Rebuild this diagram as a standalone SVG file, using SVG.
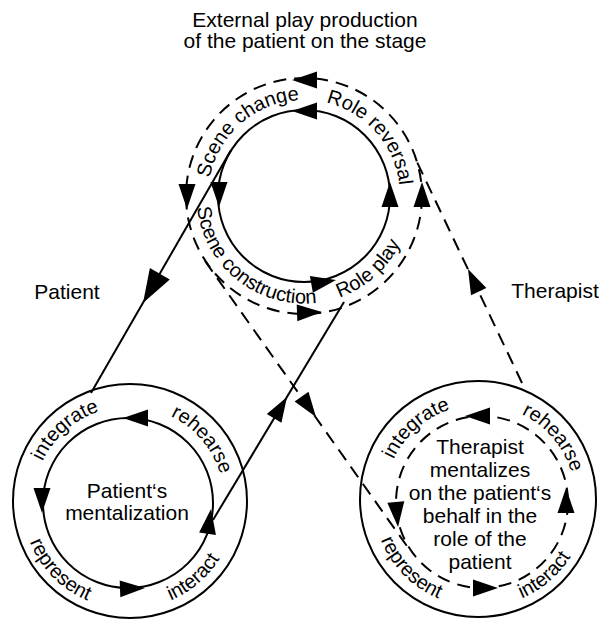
<svg xmlns="http://www.w3.org/2000/svg" width="606" height="620" viewBox="0 0 606 620">
<style>
  text { font-family: "Liberation Sans", Arial, sans-serif; fill: #000; }
  .lbl { font-size: 21px; text-anchor: middle; }
  .arc { font-size: 20px; }
  .ring { fill: none; stroke: #000; stroke-width: 2; }
  .dash { stroke-dasharray: 13 8; }
  .link { fill: none; stroke: #000; stroke-width: 2; }
  .head { fill: #000; }
</style>
<defs>
  <!-- arrowhead, tip at origin pointing along +x -->
  <path id="ah" d="M0,0 L-25,-8.5 L-25,8.5 Z"/>
  <!-- text arcs: stage ring -->
  <path id="p-scene-change" d="M209.77,214.32 A96,96 0 0 1 335.26,105.23"/>
  <path id="p-role-reversal" d="M284.86,101.93 A96,96 0 0 1 395.04,226.46"/>
  <path id="p-scene-construction" d="M197.67,180.11 A107.5,107.5 0 0 0 343.40,296.02"/>
  <path id="p-role-play" d="M269.89,297.94 A107.5,107.5 0 0 0 409.34,174.56"/>
  <!-- text arcs: patient ring -->
  <path id="p-l-integrate" d="M35.42,521.04 A95.5,95.5 0 0 1 159.30,411.44"/>
  <path id="p-l-rehearse" d="M111.60,408.09 A95.5,95.5 0 0 1 219.02,533.88"/>
  <path id="p-l-represent" d="M25.89,473.41 A107,107 0 0 0 155.79,605.59"/>
  <path id="p-l-interact" d="M93.28,602.86 A107,107 0 0 0 234.21,482.50"/>
  <!-- text arcs: therapist ring -->
  <path id="p-r-integrate" d="M386.42,519.04 A95.5,95.5 0 0 1 510.30,409.44"/>
  <path id="p-r-rehearse" d="M462.60,406.09 A95.5,95.5 0 0 1 570.02,531.88"/>
  <path id="p-r-represent" d="M376.89,471.41 A107,107 0 0 0 506.79,603.59"/>
  <path id="p-r-interact" d="M444.28,600.86 A107,107 0 0 0 585.21,480.50"/>
</defs>

<rect width="606" height="620" fill="#fff"/>

<!-- headings -->
<g id="title">
  <text class="lbl" x="305" y="27">External play production</text>
  <text class="lbl" x="305" y="48">of the patient on the stage</text>
</g>
<g id="label-patient"><text class="lbl" x="67" y="299">Patient</text></g>
<g id="label-therapist"><text class="lbl" x="555" y="298">Therapist</text></g>

<!-- stage: external play production -->
<g id="stage">
  <circle class="ring dash" cx="304" cy="196" r="118"/>
  <circle class="ring" cx="304" cy="196" r="86"/>
  <use href="#ah" class="head" transform="translate(292,80) rotate(180)"/>
  <use href="#ah" class="head" transform="translate(187,209) rotate(90)"/>
  <use href="#ah" class="head" transform="translate(322,312) rotate(-2)"/>
  <use href="#ah" class="head" transform="translate(422,182) rotate(-90)"/>
  <use href="#ah" class="head" transform="translate(292,111) rotate(180)"/>
  <use href="#ah" class="head" transform="translate(219,207) rotate(90)"/>
  <use href="#ah" class="head" transform="translate(336,280) rotate(-10)"/>
  <use href="#ah" class="head" transform="translate(390,182) rotate(-90)"/>
  <text class="arc"><textPath href="#p-scene-change" startOffset="50%" text-anchor="middle">Scene change</textPath></text>
  <text class="arc"><textPath href="#p-role-reversal" startOffset="50%" text-anchor="middle">Role reversal</textPath></text>
  <text class="arc"><textPath href="#p-scene-construction" startOffset="50%" text-anchor="middle">Scene construction</textPath></text>
  <text class="arc"><textPath href="#p-role-play" startOffset="50%" text-anchor="middle">Role play</textPath></text>
</g>

<!-- patient's own mentalization cycle -->
<g id="patient">
  <circle class="ring" cx="130" cy="501" r="117"/>
  <circle class="ring" cx="128" cy="503" r="85"/>
  <use href="#ah" class="head" transform="translate(123,418) rotate(180)"/>
  <use href="#ah" class="head" transform="translate(42,513) rotate(90)"/>
  <use href="#ah" class="head" transform="translate(145,588) rotate(-2)"/>
  <use href="#ah" class="head" transform="translate(211,509) rotate(-82)"/>
  <text class="arc"><textPath href="#p-l-integrate" startOffset="50%" text-anchor="middle">integrate</textPath></text>
  <text class="arc"><textPath href="#p-l-rehearse" startOffset="50%" text-anchor="middle">rehearse</textPath></text>
  <text class="arc"><textPath href="#p-l-represent" startOffset="50%" text-anchor="middle">represent</textPath></text>
  <text class="arc"><textPath href="#p-l-interact" startOffset="50%" text-anchor="middle">interact</textPath></text>
  <text class="lbl" x="127" y="498">Patient‘s</text>
  <text class="lbl" x="127" y="520">mentalization</text>
</g>

<!-- therapist mentalizing in the patient's role -->
<g id="therapist">
  <circle class="ring" cx="478" cy="499" r="118"/>
  <circle class="ring dash" cx="482" cy="502" r="86"/>
  <use href="#ah" class="head" transform="translate(465,416) rotate(180)"/>
  <use href="#ah" class="head" transform="translate(398,527) rotate(85)"/>
  <use href="#ah" class="head" transform="translate(498,588) rotate(0)"/>
  <use href="#ah" class="head" transform="translate(566,488) rotate(-90)"/>
  <text class="arc"><textPath href="#p-r-integrate" startOffset="50%" text-anchor="middle">integrate</textPath></text>
  <text class="arc"><textPath href="#p-r-rehearse" startOffset="50%" text-anchor="middle">rehearse</textPath></text>
  <text class="arc"><textPath href="#p-r-represent" startOffset="50%" text-anchor="middle">represent</textPath></text>
  <text class="arc"><textPath href="#p-r-interact" startOffset="50%" text-anchor="middle">interact</textPath></text>
  <text class="lbl" x="480" y="454">Therapist</text>
  <text class="lbl" x="480" y="477">mentalizes</text>
  <text class="lbl" x="480" y="500">on the patient‘s</text>
  <text class="lbl" x="480" y="523">behalf in the</text>
  <text class="lbl" x="480" y="546">role of the</text>
  <text class="lbl" x="480" y="569">patient</text>
</g>

<!-- connectors between the cycles -->
<g id="connectors">
  <line class="link" x1="231" y1="150" x2="91" y2="393"/>
  <use href="#ah" class="head" transform="translate(143,303) rotate(119.9) scale(1.35)"/>
  <line class="link" x1="213" y1="520" x2="344" y2="302"/>
  <use href="#ah" class="head" transform="translate(287,397) rotate(-59)"/>
  <line class="link dash" x1="205" y1="261" x2="409" y2="549"/>
  <use href="#ah" class="head" transform="translate(316,417) rotate(54.7)"/>
  <line class="link dash" x1="522" y1="383" x2="417" y2="162"/>
  <use href="#ah" class="head" transform="translate(468,269) rotate(-115.4)"/>
</g>
</svg>
